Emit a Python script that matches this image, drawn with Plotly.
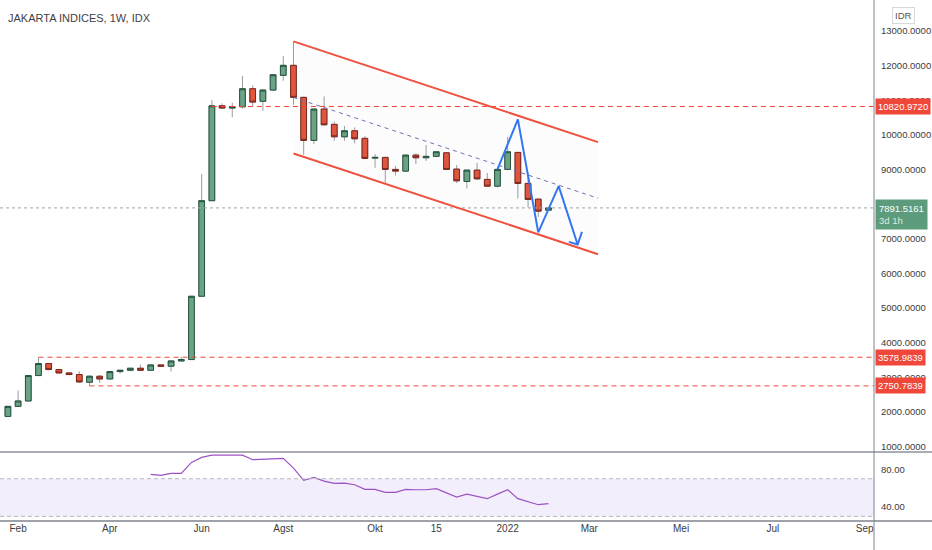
import numpy as np
import pandas as pd
import plotly.graph_objects as go

# weekly candles, IDX sector index, week of 25 Jan 2021 -> week of 31 Jan 2022
weeks = pd.date_range("2021-01-25", periods=54, freq="7D")

opens = [1870, 2160, 2316, 3050, 3397, 3223, 3125, 3079, 2856, 3030,
         2952, 3165, 3203, 3261, 3203, 3356, 3320, 3472, 3512, 5340,
         8100, 10841, 10775, 10812, 11333, 10970, 11295, 11720, 12009, 11084,
         9841, 10746, 10304, 9945, 10119, 9900, 9330, 9350, 9003, 8954,
         9416, 9340, 9380, 9483, 9012, 8656, 8983, 8714, 8520, 9003,
         9494, 8598, 8144, 7827]
highs = [2170, 2620, 3060, 3579, 3410, 3250, 3130, 3174, 3060, 3067,
         3170, 3210, 3270, 3368, 3365, 3370, 3480, 3590, 5350, 8870,
         11006, 10910, 10928, 11700, 11431, 11320, 11760, 12277, 12700, 11100,
         10760, 11110, 10380, 10255, 10217, 9966, 9445, 9370, 9099, 9430,
         9466, 9705, 9530, 9500, 9130, 9000, 9194, 8900, 9040, 9945,
         9500, 8905, 8160, 7900]
lows = [1850, 2150, 2300, 3040, 3200, 3110, 3060, 2840, 2751, 2840,
        2945, 3107, 3195, 3195, 3195, 3310, 3165, 3460, 3500, 5330,
        8090, 10760, 10506, 10760, 10812, 10697, 11280, 11564, 10870, 9425,
        9734, 10270, 9830, 9830, 9755, 9300, 9050, 8616, 8830, 8940,
        9156, 9252, 9360, 8990, 8610, 8454, 8700, 8500, 8480, 8980,
        8165, 7905, 7633, 7820]
closes = [2160, 2316, 3050, 3397, 3223, 3125, 3079, 2865, 3030, 2952,
          3165, 3203, 3261, 3203, 3356, 3320, 3472, 3512, 5340, 8100,
          10840, 10775, 10810, 11333, 10948, 11295, 11737, 12009, 11084, 9841,
          10746, 10292, 9945, 10119, 9887, 9321, 9350, 9003, 8954, 9416,
          9340, 9380, 9512, 9003, 8674, 8983, 8731, 8520, 9003, 9512,
          8598, 8136, 7798, 7891.5161]

# RSI(14), first value on week 14
rsi_weeks = weeks[14:]
rsi = [74.6, 73.5, 75.7, 75.7, 87.3, 92.7, 95.1, 95.1, 95.1, 95.1,
       90.2, 90.9, 91.2, 91.6, 81.3, 68.2, 71.4, 67.5, 65.0, 65.4,
       63.6, 58.7, 58.7, 55.5, 55.5, 58.7, 58.3, 58.3, 59.4, 54.8,
       50.5, 53.7, 51.2, 48.8, 53.7, 58.3, 48.8, 45.2, 42.4, 43.5]

# drawings
chan_x = ["2021-08-09", "2022-03-06"]
chan_top = [12700, 9790]
chan_bot = [9465, 6555]
chan_mid = [11082, 8172]
zig_x = ["2021-12-27", "2022-01-10", "2022-01-24", "2022-02-07", "2022-02-20"]
zig_y = [9003, 10448, 7183, 8520, 6836]
arrow_x = ["2022-02-14", "2022-02-20", "2022-02-23"]
arrow_y = [6911, 6836, 7200]

# horizontal levels: value, start week
levels = [10820.9720, 3578.9839, 2750.7839]
level_start = ["2021-06-14", "2021-02-15", "2021-03-22"]
last_price = 7891.5161

tick_dates = ["2021-02-01", "2021-04-05", "2021-06-07", "2021-08-02", "2021-10-04",
              "2021-11-15", "2022-01-03", "2022-02-28", "2022-05-02", "2022-07-04",
              "2022-09-05"]
tick_text = ["Feb", "Apr", "Jun", "Agst", "Okt", "15", "2022", "Mar", "Mei", "Jul", "Sep"]
# 8000 sits completely under the last-price badge, so it is not listed
price_ticks = [1000, 2000, 3000, 4000, 5000, 6000, 7000, 9000, 10000, 11000, 12000, 13000]

FONT = "Liberation Sans, Arial, sans-serif"
TXT = "#3b3b3b"
RED = "#f0473b"
GREEN_LBL = "#5c9c7c"
X_RANGE = ["2021-01-19 14:00", "2022-09-11 10:00"]

fig = go.Figure()

# channel fill + lines
fig.add_trace(go.Scatter(x=chan_x, y=chan_bot, mode="lines", line=dict(width=0),
                         showlegend=False, hoverinfo="skip"))
fig.add_trace(go.Scatter(x=chan_x, y=chan_top, mode="lines", line=dict(width=0),
                         fill="tonexty", fillcolor="rgba(120,123,134,0.025)",
                         showlegend=False, hoverinfo="skip"))
fig.add_trace(go.Scatter(x=chan_x, y=chan_mid, mode="lines",
                         line=dict(color="#7371b8", width=1, dash="4px,4px"),
                         showlegend=False, hoverinfo="skip"))

# levels
x_end = X_RANGE[1]
for lv, st in zip(levels, level_start):
    fig.add_trace(go.Scatter(x=[st, x_end], y=[lv, lv], mode="lines",
                             line=dict(color=RED, width=1, dash="5px,4px"),
                             showlegend=False, hoverinfo="skip"))
fig.add_trace(go.Scatter(x=[X_RANGE[0], x_end], y=[last_price, last_price], mode="lines",
                         line=dict(color="#a0a3ab", width=1, dash="dot"),
                         showlegend=False, hoverinfo="skip"))

# wicks (grey) then bodies on top
body_hi = list(np.maximum(opens, closes))
body_lo = list(np.minimum(opens, closes))
WICK = "#9a9ca3"
fig.add_trace(go.Candlestick(x=weeks, open=opens, high=highs, low=lows, close=closes,
                             increasing=dict(line=dict(color=WICK, width=1), fillcolor=WICK),
                             decreasing=dict(line=dict(color=WICK, width=1), fillcolor=WICK),
                             showlegend=False, hoverinfo="skip"))
fig.add_trace(go.Candlestick(x=weeks, open=opens, high=body_hi, low=body_lo, close=closes,
                             increasing=dict(line=dict(color="#24553d", width=1), fillcolor="#6aa386"),
                             decreasing=dict(line=dict(color="#7d261a", width=1), fillcolor="#e1553d"),
                             showlegend=False))

# channel borders
for yy in (chan_top, chan_bot):
    fig.add_trace(go.Scatter(x=chan_x, y=yy, mode="lines",
                             line=dict(color="#f0503e", width=2),
                             showlegend=False, hoverinfo="skip"))

# zigzag forecast
fig.add_trace(go.Scatter(x=zig_x, y=zig_y, mode="lines", line=dict(color="#3377f0", width=2),
                         showlegend=False, hoverinfo="skip"))
fig.add_trace(go.Scatter(x=arrow_x, y=arrow_y, mode="lines", line=dict(color="#3377f0", width=2),
                         showlegend=False, hoverinfo="skip"))

# RSI panel
fig.add_trace(go.Scatter(x=rsi_weeks, y=rsi, mode="lines", line=dict(color="#9c52c4", width=1.2),
                         xaxis="x2", yaxis="y2", showlegend=False))

H_PLOT = 521
rsi_frac = 69 / H_PLOT

fig.update_layout(
    width=932, height=550,
    margin=dict(l=0, r=58, t=0, b=29),
    paper_bgcolor="white", plot_bgcolor="white",
    font=dict(family=FONT, size=10, color=TXT),
    boxgap=0.2,
    xaxis=dict(domain=[0, 1], anchor="y", range=X_RANGE, showgrid=False, zeroline=False,
               showticklabels=False, rangeslider=dict(visible=False), fixedrange=True),
    yaxis=dict(domain=[rsi_frac, 1], anchor="x", side="right", range=[842, 13896],
               tickvals=price_ticks, tickformat=".4f", showgrid=False, zeroline=False,
               ticks="", ticklabelstandoff=6, automargin=False, tickfont=dict(size=9.5)),
    xaxis2=dict(domain=[0, 1], anchor="y2", matches="x", range=X_RANGE, showgrid=False,
                zeroline=False, tickvals=tick_dates, ticktext=tick_text, ticks="",
                tickfont=dict(size=10), rangeslider=dict(visible=False)),
    yaxis2=dict(domain=[0, rsi_frac], anchor="x2", side="right", range=[25.1, 98.4],
                tickvals=[40, 80], tickformat=".2f", showgrid=False, zeroline=False,
                ticks="", ticklabelstandoff=6, automargin=False, tickfont=dict(size=9.5)),
)

# RSI band
fig.add_shape(type="rect", xref="x2 domain", yref="y2", x0=0, x1=1, y0=30, y1=70,
              fillcolor="rgba(150,100,230,0.11)", line=dict(width=0), layer="below")
for lv in (30, 70):
    fig.add_shape(type="line", xref="x2 domain", yref="y2", x0=0, x1=1, y0=lv, y1=lv,
                  line=dict(color="#b5b7be", width=1, dash="4px,3px"))

# panel frames
xr = 932 / 874
fig.add_shape(type="line", xref="paper", yref="paper", x0=0, x1=xr, y0=rsi_frac, y1=rsi_frac,
              line=dict(color="#555a66", width=1))
fig.add_shape(type="line", xref="paper", yref="paper", x0=0, x1=xr, y0=0, y1=0,
              line=dict(color="#9ea1a8", width=2))
fig.add_shape(type="line", xref="paper", yref="paper", x0=1, x1=1, y0=-29 / H_PLOT, y1=1,
              line=dict(color="#7f838c", width=1))

# texts
fig.add_annotation(text="JAKARTA INDICES, 1W, IDX", xref="paper", yref="paper",
                   x=6 / 874, y=1 - 18 / H_PLOT, xanchor="left", yanchor="middle",
                   showarrow=False, font=dict(size=11, color="#3f3f44"))
fig.add_annotation(text="IDR", xref="paper", yref="paper", x=903 / 874, y=1 - 15 / H_PLOT,
                   xanchor="center", yanchor="middle", showarrow=False,
                   font=dict(size=9.5, color="#555"), bordercolor="#d6d8de", borderwidth=1,
                   borderpad=2, bgcolor="white")

for lv in levels:
    fig.add_annotation(text="%.4f" % lv, xref="paper", yref="y", x=1.001, y=lv,
                       xanchor="left", yanchor="middle", showarrow=False,
                       font=dict(size=9.5, color="white"), bgcolor=RED, borderpad=2)
fig.add_annotation(text="%.4f<br><span style='color:#d6ecdf'>3d 1h</span>" % last_price,
                   xref="paper", yref="y", x=1.001, y=last_price - 200,
                   xanchor="left", yanchor="middle", align="left", showarrow=False,
                   font=dict(size=9.5, color="white"), bgcolor=GREEN_LBL, borderpad=3)

# page body has an 8px default margin; drop it so the chart sits at the window corner
fig.write_html("out.html", config={"displayModeBar": False},
               post_script="document.body.style.margin='0';")
